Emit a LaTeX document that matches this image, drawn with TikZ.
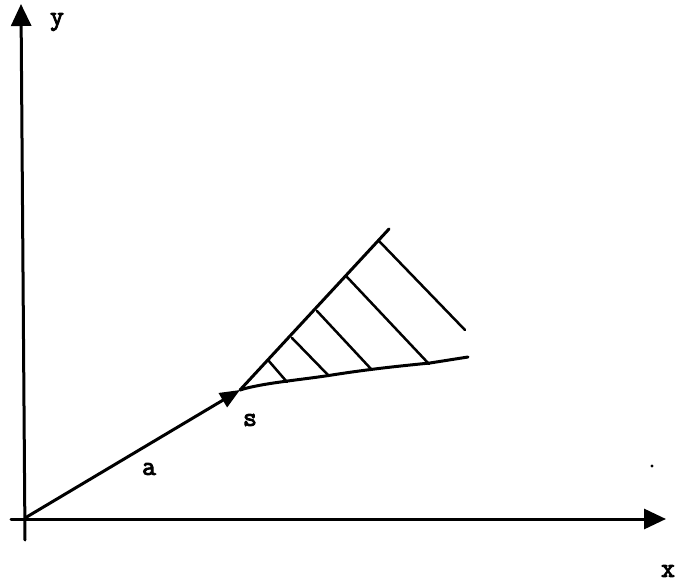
\documentclass[tikz,border=0pt]{standalone}
\usepackage{fontspec}
\newfontfamily\lblfont[FakeBold=3.5]{Latin Modern Mono}
\usetikzlibrary{arrows.meta}
\begin{document}
\begin{tikzpicture}[x=1pt,y=-1pt,
  ink/.style={line width=3pt,line cap=round,line join=round},
  axisarrow/.style={ink,-{Triangle[length=22pt,width=20pt]}},
  vecarrow/.style={ink,-{Triangle[length=20pt,width=16pt]}},
  hatch/.style={line width=2.5pt,line cap=round},
  lbl/.style={font=\lblfont\fontsize{27}{27}\selectfont,inner sep=0pt}]
\useasboundingbox (0,0) rectangle (678,583);
% points
\coordinate (ybot) at (25,540);
\coordinate (ytop) at (21,4);
\coordinate (xleft) at (11,519);
\coordinate (xtip) at (666,519);
\coordinate (O) at (25,518);
\coordinate (S) at (240,390);
\coordinate (U) at (389,229);
\coordinate (L) at (468,357);
% axes
\draw[axisarrow] (ybot) -- (ytop);
\draw[axisarrow] (xleft) -- (xtip);
% vector a
\draw[vecarrow] (O) -- (S);
% cone
\draw[ink] (S) -- (U);
\draw[ink] (S) .. controls (262,383) and (300,380) .. (332,375)
  .. controls (370,369) and (400,366) .. (430,363) -- (L);
% hatch
\draw[hatch] (268,360) -- (287,382);
\draw[hatch] (292,338) -- (329,376);
\draw[hatch] (317,311) -- (372,370);
\draw[hatch] (347,277) -- (429,364);
\draw[hatch] (379,241) -- (465,330);
% labels
\node[lbl] (ly) at (57,22) {y};
\node[lbl] (lx) at (668,571) {x};
\node[lbl] (la) at (149,469) {a};
\node[lbl] (ls) at (250,420) {s};
\fill (652,466) circle (1.6pt);
\end{tikzpicture}
\end{document}
